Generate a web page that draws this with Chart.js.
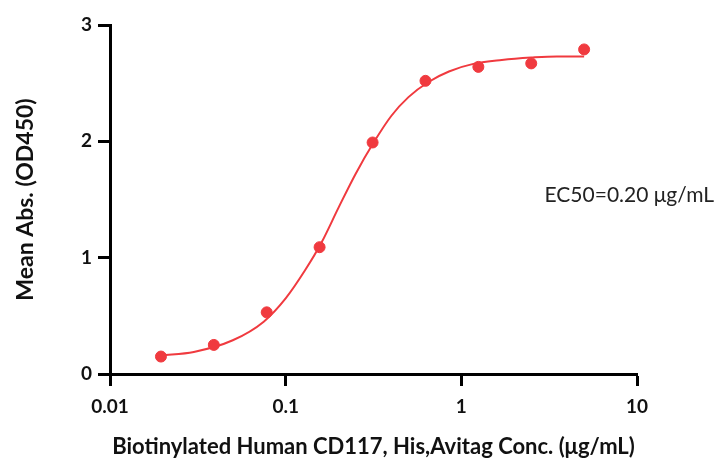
<!DOCTYPE html>
<html>
<head>
<meta charset="utf-8">
<script src="https://cdn.jsdelivr.net/npm/chart.js@4"></script>
<style>
  html, body { margin: 0; padding: 0; background: #fff; }
  #wrap { width: 722px; height: 464px; }
</style>
</head>
<body>
<div id="wrap"><canvas id="chart" width="722" height="464"></canvas></div>
<script>
// measured points (conc in ug/mL, OD450)
const conc = [0.0195, 0.039, 0.078, 0.156, 0.3125, 0.625, 1.25, 2.5, 5];
const od = [0.15, 0.25, 0.53, 1.09, 1.99, 2.52, 2.64, 2.67, 2.79];

// fitted curve
const curveX = [0.0195, 0.03, 0.05, 0.075, 0.1, 0.13, 0.16, 0.2, 0.25, 0.32, 0.4, 0.5, 0.65, 0.85, 1.2, 1.7, 2.5, 3.5, 5];
const curveY = [0.16, 0.19, 0.29, 0.45, 0.65, 0.9, 1.13, 1.43, 1.72, 2.0, 2.22, 2.38, 2.51, 2.6, 2.67, 2.7, 2.72, 2.73, 2.73];

const xTicks = [0.01, 0.1, 1, 10];
const yTicks = [0, 1, 2, 3];
const ec50Label = "EC50=0.20 \u03bcg/mL";

const red = "#f03a3f";
const font = "Lato";

const ec50Plugin = {
  id: "ec50",
  afterDraw(chart) {
    const ctx = chart.ctx;
    ctx.save();
    ctx.font = "21px " + font;
    ctx.fillStyle = "#222";
    ctx.textAlign = "right";
    ctx.textBaseline = "middle";
    ctx.fillText(ec50Label, 714, 195);
    ctx.restore();
  }
};

const ctx = document.getElementById("chart").getContext("2d");
new Chart(ctx, {
  type: "scatter",
  data: {
    datasets: [
      {
        data: curveX.map((x, i) => ({ x: x, y: curveY[i] })),
        showLine: true,
        borderColor: red,
        borderWidth: 2,
        pointRadius: 0,
        cubicInterpolationMode: "monotone",
        order: 2,
      },
      {
        data: conc.map((x, i) => ({ x: x, y: od[i] })),
        backgroundColor: red,
        borderColor: red,
        pointRadius: 5.5,
        order: 1,
      },
    ],
  },
  options: {
    responsive: false,
    animation: false,
    layout: { padding: { left: 0, right: 85, top: 25, bottom: 0 } },
    plugins: { legend: { display: false }, tooltip: { enabled: false } },
    scales: {
      x: {
        type: "logarithmic",
        min: 0.01,
        max: 10,
        afterBuildTicks: (s) => { s.ticks = xTicks.map((v) => ({ value: v })); },
        afterFit: (s) => { s.height = 90; },
        border: { display: true, color: "#000", width: 3 },
        grid: { drawOnChartArea: false, drawTicks: true, tickLength: 12, tickWidth: 3, tickColor: "#000" },
        ticks: {
          color: "#111",
          padding: 9,
          maxRotation: 0,
          font: { family: font, size: 19, weight: "bold" },
          callback: (v) => String(v),
        },
        title: {
          display: true,
          text: "Biotinylated Human CD117, His,Avitag Conc. (\u03bcg/mL)",
          color: "#111",
          font: { family: font, size: 22, weight: "bold" },
          padding: { top: 0, bottom: 4 },
        },
      },
      y: {
        min: 0,
        max: 3,
        afterBuildTicks: (s) => { s.ticks = yTicks.map((v) => ({ value: v })); },
        afterFit: (s) => { s.width = 110; },
        border: { display: true, color: "#000", width: 3 },
        grid: { drawOnChartArea: false, drawTicks: true, tickLength: 12, tickWidth: 3, tickColor: "#000" },
        ticks: {
          color: "#111",
          padding: 6,
          font: { family: font, size: 19, weight: "bold" },
        },
        title: {
          display: true,
          text: "Mean Abs. (OD450)",
          color: "#111",
          font: { family: font, size: 23, weight: "bold" },
          padding: { top: 12, bottom: 0 },
        },
      },
    },
  },
  plugins: [ec50Plugin],
});
</script>
</body>
</html>
